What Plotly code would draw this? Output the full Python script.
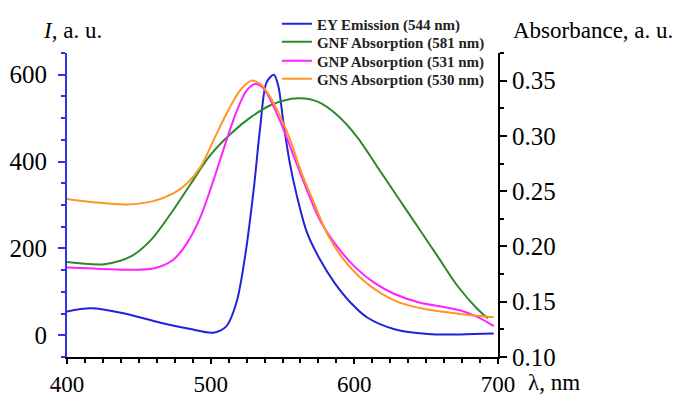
import plotly.graph_objects as go

# ---------------- data ----------------
ey_wl = [400, 417, 440, 465, 485, 502, 511, 518, 524, 530, 534.6, 539, 544, 547, 550.6, 555,
         560, 567, 576, 586, 597.5, 609, 628, 651, 674, 697]
ey_int = [55, 62, 50, 29, 15, 6, 21, 76, 183, 337, 483, 583, 600, 575, 491, 398,
          321, 237, 175, 122, 75, 41, 14, 3, 2, 4]

gnf_wl = [400, 426, 444.5, 458.5, 472.4, 486.3, 500, 514, 528, 542, 560.5, 574.4, 588, 602,
          616, 630, 644, 658, 672, 686, 693]
gnf_abs = [0.186, 0.184, 0.191, 0.206, 0.230, 0.257, 0.283, 0.302, 0.317, 0.328, 0.334, 0.331,
           0.319, 0.299, 0.272, 0.245, 0.218, 0.191, 0.164, 0.143, 0.135]

gnp_wl = [400, 418.5, 441.7, 460, 474, 483.5, 493, 502, 511, 518, 525, 531, 536.8, 544, 551,
          558, 567, 576, 588, 600, 614, 628, 646, 663, 674, 686, 697]
gnp_abs = [0.181, 0.180, 0.179, 0.180, 0.188, 0.203, 0.227, 0.260, 0.296, 0.322, 0.341, 0.347,
           0.343, 0.326, 0.305, 0.281, 0.251, 0.224, 0.200, 0.182, 0.167, 0.157, 0.149, 0.145,
           0.142, 0.136, 0.128]

gns_wl = [400, 418.5, 441.7, 460, 474, 483.5, 493, 502, 511, 520.4, 528.5, 534.6, 541.6, 548.6,
          555.5, 562.5, 572, 581, 592.6, 604, 618, 632, 651, 674, 697]
gns_abs = [0.243, 0.240, 0.238, 0.241, 0.248, 0.257, 0.272, 0.296, 0.320, 0.341, 0.350, 0.347,
           0.335, 0.317, 0.296, 0.269, 0.239, 0.212, 0.188, 0.172, 0.158, 0.149, 0.143, 0.139,
           0.136]

names = ["EY Emission (544 nm)", "GNF Absorption (581 nm)",
         "GNP Absorption (531 nm)", "GNS Absorption (530 nm)"]
colors = ["#2222d8", "#2a8a2a", "#ff22ff", "#ff9428"]

x_ticks = [400, 500, 600, 700]
left_ticks = [0, 200, 400, 600]
right_ticks = [0.10, 0.15, 0.20, 0.25, 0.30, 0.35]

SERIF = "Liberation Serif, Times New Roman, serif"

# plot-area geometry in pixels (for placing legend rows)
PT, PB = 53, 357
PH = PB - PT
legend_rows_px = [24, 42, 61, 79]
legend_ids = ["legend", "legend2", "legend3", "legend4"]

fig = go.Figure()
series = [(ey_wl, ey_int, "y"), (gnf_wl, gnf_abs, "y2"),
          (gnp_wl, gnp_abs, "y2"), (gns_wl, gns_abs, "y2")]
for (wl, vals, ax), nm, c, lg in zip(series, names, colors, legend_ids):
    fig.add_trace(go.Scatter(x=wl, y=vals, name=nm, mode="lines", yaxis=ax, legend=lg,
                             line=dict(color=c, width=2, shape="spline", smoothing=0.9)))

legend_style = dict(x=0.487, xanchor="left", yanchor="middle",
                    bgcolor="rgba(0,0,0,0)", borderwidth=0,
                    font=dict(family=SERIF, size=15, color="#222222", weight="bold"),
                    itemwidth=30)
for lg, ypx in zip(legend_ids, legend_rows_px):
    fig.update_layout({lg: dict(legend_style, y=1 + (PT - ypx) / PH)})

fig.update_layout(
    width=674, height=396,
    margin=dict(l=67, r=176, t=PT, b=396 - PB, autoexpand=False),
    paper_bgcolor="white", plot_bgcolor="white",
    font=dict(family=SERIF, color="black"),
    showlegend=True,
    xaxis=dict(range=[400, 700], tickvals=x_ticks, showgrid=False, zeroline=False,
               showline=True, linecolor="black", linewidth=2,
               ticks="outside", ticklen=5, tickwidth=1.5, tickcolor="black",
               tickfont=dict(family=SERIF, size=23, color="black"),
               minor=dict(dtick=12.5, tick0=400, ticks="outside", ticklen=4,
                          tickwidth=1.5, tickcolor="black", showgrid=False)),
    yaxis=dict(range=[-50, 650], tickvals=left_ticks, showgrid=False, zeroline=False,
               showline=True, linecolor="#3333e0", linewidth=2,
               ticks="outside", ticklen=7, tickwidth=1.5, tickcolor="#3333e0",
               ticklabelstandoff=6,
               tickfont=dict(family=SERIF, size=25, color="black"),
               minor=dict(dtick=50, tick0=0, ticks="outside", ticklen=4,
                          tickwidth=1.5, tickcolor="#3333e0", showgrid=False)),
    yaxis2=dict(range=[0.10, 0.375], tickvals=right_ticks, tickformat=".2f",
                overlaying="y", side="right", showgrid=False, zeroline=False,
                showline=True, linecolor="black", linewidth=2,
                ticks="outside", ticklen=7, tickwidth=1.5, tickcolor="black",
                tickfont=dict(family=SERIF, size=25, color="black"),
                minor=dict(dtick=0.025, tick0=0.10, ticks="outside", ticklen=4,
                           tickwidth=1.5, tickcolor="black", showgrid=False)),
)

fig.add_annotation(text="<i>I</i>, a. u.", xref="paper", yref="paper",
                   x=-0.06, y=1 + (PT - 30) / PH, xanchor="left", yanchor="middle",
                   showarrow=False, font=dict(family=SERIF, size=23, color="black"))
fig.add_annotation(text="Absorbance, a. u.", xref="paper", yref="paper",
                   x=1.03, y=1 + (PT - 30) / PH, xanchor="left", yanchor="middle",
                   showarrow=False, font=dict(family=SERIF, size=23, color="black"))
fig.add_annotation(text="λ, nm", xref="paper", yref="paper",
                   x=1.065, y=(PB - 382) / PH, xanchor="left", yanchor="middle",
                   showarrow=False, font=dict(family=SERIF, size=23, color="black"))

fig.write_html("out.html")
